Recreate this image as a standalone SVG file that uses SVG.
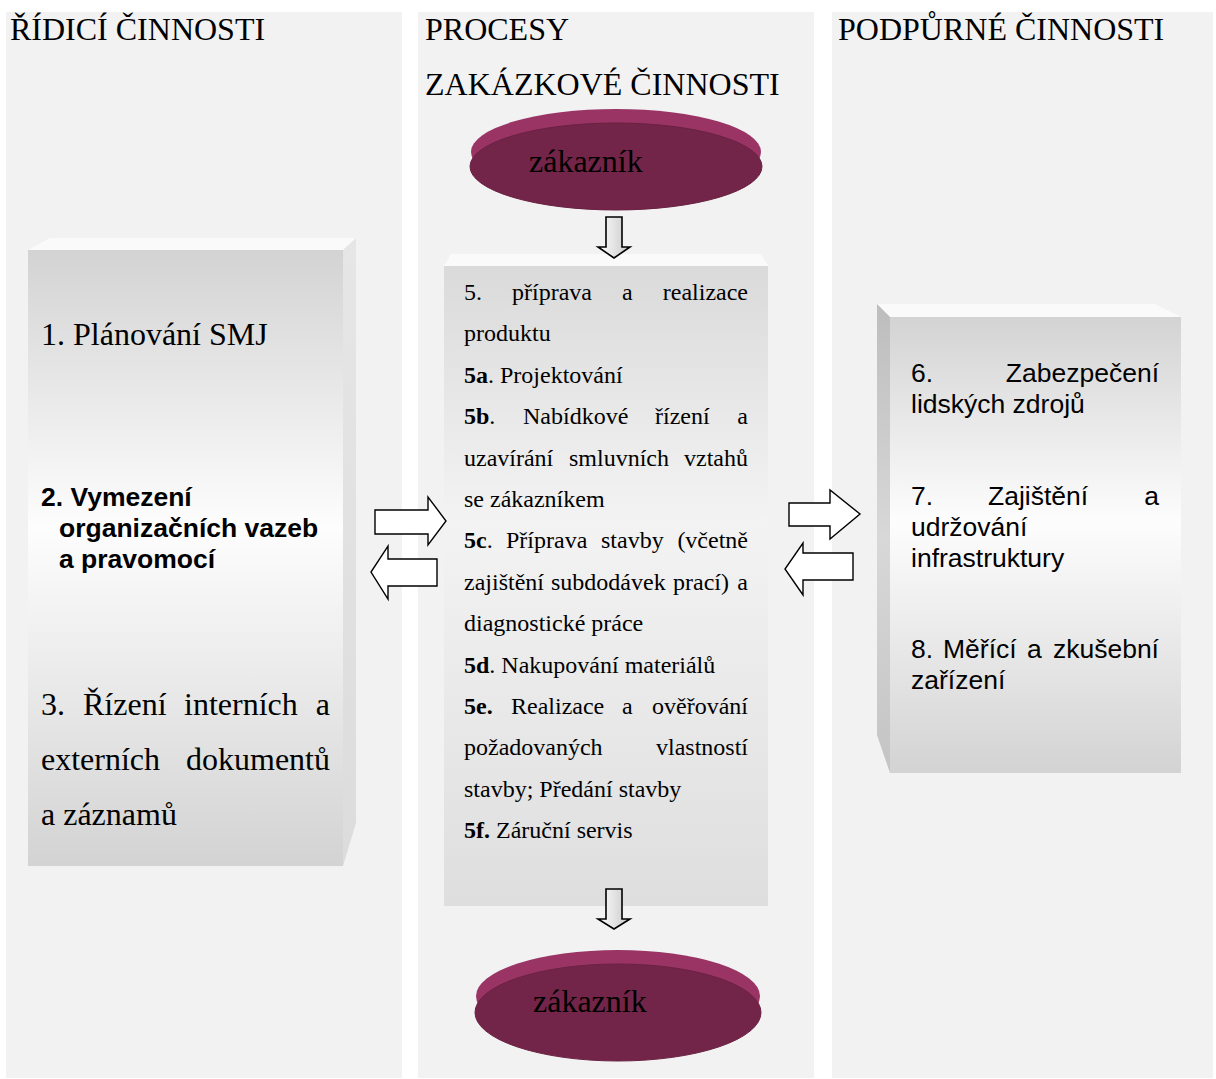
<svg xmlns="http://www.w3.org/2000/svg" width="1216" height="1079" viewBox="0 0 1216 1079">
<defs>
<linearGradient id="gFront" x1="0" y1="0" x2="0" y2="1">
<stop offset="0" stop-color="#d3d3d3"/>
<stop offset="0.45" stop-color="#fdfdfd"/>
<stop offset="1" stop-color="#d3d3d3"/>
</linearGradient>
<linearGradient id="gMid" x1="0" y1="0" x2="0" y2="1">
<stop offset="0" stop-color="#dadada"/>
<stop offset="0.4" stop-color="#f3f3f3"/>
<stop offset="1" stop-color="#dedede"/>
</linearGradient>
<linearGradient id="gSideR" x1="0" y1="0" x2="0" y2="1">
<stop offset="0" stop-color="#e6e6e6"/>
<stop offset="1" stop-color="#dcdcdc"/>
</linearGradient>
<linearGradient id="gSideL" x1="0" y1="0" x2="0" y2="1">
<stop offset="0" stop-color="#bdbdbd"/>
<stop offset="0.5" stop-color="#d8d8d8"/>
<stop offset="1" stop-color="#c4c4c4"/>
</linearGradient>
<linearGradient id="gArrow" x1="0" y1="0" x2="1" y2="0">
<stop offset="0" stop-color="#ffffff"/>
<stop offset="1" stop-color="#c8c8c8"/>
</linearGradient>
<style>
.panel{fill:#f2f2f2}
.hdr{font-family:"Liberation Serif","Times New Roman",serif;font-size:32px;fill:#000}
.ser{font-family:"Liberation Serif","Times New Roman",serif;font-size:32px;fill:#000}
.mt{font-family:"Liberation Serif","Times New Roman",serif;font-size:24px;fill:#000}
.sans{font-family:"Liberation Sans",Arial,sans-serif;font-size:26.5px;fill:#000}
.b{font-weight:bold}
.topface{fill:#fafafa}
.arrow{fill:#ffffff;stroke:#000;stroke-width:1.4;stroke-linejoin:miter}
.darr{fill:url(#gArrow);stroke:#000;stroke-width:1.6}
.discTop{fill:#9a3465}
.discFace{fill:#722548;stroke:#6a2242;stroke-width:1}
</style>
</defs>
<rect width="1216" height="1079" fill="#ffffff"/>

<g id="panels">
<rect class="panel" x="6" y="12" width="396" height="1066"/>
<rect class="panel" x="418" y="12" width="396" height="1066"/>
<rect class="panel" x="832" y="12" width="381" height="1066"/>
</g>

<g id="headers">
<text class="hdr" x="10" y="40">ŘÍDICÍ ČINNOSTI</text>
<text class="hdr" x="425" y="40">PROCESY</text>
<text class="hdr" x="425" y="95">ZAKÁZKOVÉ ČINNOSTI</text>
<text class="hdr" x="838" y="40">PODPŮRNÉ ČINNOSTI</text>
</g>

<g id="customer-top">
<ellipse class="discTop" cx="616" cy="152" rx="145" ry="43"/>
<ellipse class="discFace" cx="616" cy="166.5" rx="146" ry="43.5"/>
<text class="ser" x="529" y="172">zákazník</text>
</g>

<g id="customer-bottom">
<ellipse class="discTop" cx="618" cy="996" rx="142" ry="46"/>
<ellipse class="discFace" cx="618" cy="1012.5" rx="143" ry="48.5"/>
<text class="ser" x="533" y="1012">zákazník</text>
</g>

<g id="left-box">
<polygon class="topface" points="28,250 50,238 356,238 343,250"/>
<polygon fill="url(#gSideR)" points="343,250 356,238 356,823 343,866"/>
<rect x="28" y="250" width="315" height="616" fill="url(#gFront)"/>
<text class="ser" x="41" y="345">1. Plánování SMJ</text>
<text class="sans b" x="41" y="506">2. Vymezení</text>
<text class="sans b" x="59" y="537">organizačních vazeb</text>
<text class="sans b" x="59" y="568">a pravomocí</text>
<text class="ser" y="715"><tspan x="41">3.</tspan><tspan x="83">Řízení</tspan><tspan x="184">interních</tspan></text>
<text class="ser" x="330" y="715" text-anchor="end">a</text>
<text class="ser" x="41" y="770">externích</text>
<text class="ser" x="330" y="770" text-anchor="end">dokumentů</text>
<text class="ser" x="41" y="825">a záznamů</text>
</g>

<g id="process-box">
<polygon class="topface" points="444,266 451,254 761,254 768,266"/>
<rect x="444" y="266" width="324" height="640" fill="url(#gMid)"/>
<text class="mt" y="300"><tspan x="464">5.</tspan><tspan x="512">příprava</tspan><tspan x="622">a</tspan></text>
<text class="mt" x="748" y="300" text-anchor="end">realizace</text>
<text class="mt" x="464" y="341.4">produktu</text>
<text class="mt" x="464" y="382.8"><tspan class="b">5a</tspan>. Projektování</text>
<text class="mt" y="424.2"><tspan x="464"><tspan class="b">5b</tspan>.</tspan><tspan x="523">Nabídkové</tspan><tspan x="655">řízení</tspan></text>
<text class="mt" x="748" y="424.2" text-anchor="end">a</text>
<text class="mt" y="465.6"><tspan x="464">uzavírání</tspan><tspan x="569">smluvních</tspan></text>
<text class="mt" x="748" y="465.6" text-anchor="end">vztahů</text>
<text class="mt" x="464" y="507">se zákazníkem</text>
<text class="mt" y="548.4"><tspan x="464"><tspan class="b">5c</tspan>.</tspan><tspan x="506">Příprava</tspan><tspan x="601">stavby</tspan></text>
<text class="mt" x="748" y="548.4" text-anchor="end">(včetně</text>
<text class="mt" y="589.8"><tspan x="464">zajištění</tspan><tspan x="551">subdodávek</tspan><tspan x="673">prací)</tspan></text>
<text class="mt" x="748" y="589.8" text-anchor="end">a</text>
<text class="mt" x="464" y="631.2">diagnostické práce</text>
<text class="mt" x="464" y="672.6"><tspan class="b">5d</tspan>. Nakupování materiálů</text>
<text class="mt" y="714"><tspan x="464" class="b">5e.</tspan><tspan x="511">Realizace</tspan><tspan x="622">a</tspan></text>
<text class="mt" x="748" y="714" text-anchor="end">ověřování</text>
<text class="mt" x="464" y="755.4">požadovaných</text>
<text class="mt" x="748" y="755.4" text-anchor="end">vlastností</text>
<text class="mt" x="464" y="796.8">stavby; Předání stavby</text>
<text class="mt" x="464" y="838.2"><tspan class="b">5f.</tspan> Záruční servis</text>
</g>

<g id="support-box">
<polygon class="topface" points="877,304 1155,304 1181,317 890,317"/>
<polygon fill="url(#gSideL)" points="877,304 890,317 890,773 877,735"/>
<rect x="890" y="317" width="291" height="456" fill="url(#gFront)"/>
<text class="sans" x="911" y="382">6.</text>
<text class="sans" x="1159" y="382" text-anchor="end">Zabezpečení</text>
<text class="sans" x="911" y="413">lidských zdrojů</text>
<text class="sans" y="505"><tspan x="911">7.</tspan><tspan x="988">Zajištění</tspan></text>
<text class="sans" x="1159" y="505" text-anchor="end">a</text>
<text class="sans" x="911" y="536">udržování</text>
<text class="sans" x="911" y="567">infrastruktury</text>
<text class="sans" y="658"><tspan x="911">8.</tspan><tspan x="943">Měřící</tspan><tspan x="1027">a</tspan></text>
<text class="sans" x="1159" y="658" text-anchor="end">zkušební</text>
<text class="sans" x="911" y="689">zařízení</text>
</g>

<g id="connectors">
<path class="darr" d="M606,217 H622 V247 H630 L614,258 L598,247 H606 Z"/>
<path class="darr" d="M606,889 H622 V919 H630 L614,929 L598,919 H606 Z"/>
<path class="arrow" d="M375,510 H428 V497 L446,521 L428,545 V534 H375 Z"/>
<path class="arrow" d="M437,559 H388 V546 L371,572 L388,599 V586 H437 Z"/>
<path class="arrow" d="M789,503 H830 V490 L860,514 L830,539 V526 H789 Z"/>
<path class="arrow" d="M853,553 H803 V543 L785,569 L803,595 V580 H853 Z"/>
</g>
</svg>
